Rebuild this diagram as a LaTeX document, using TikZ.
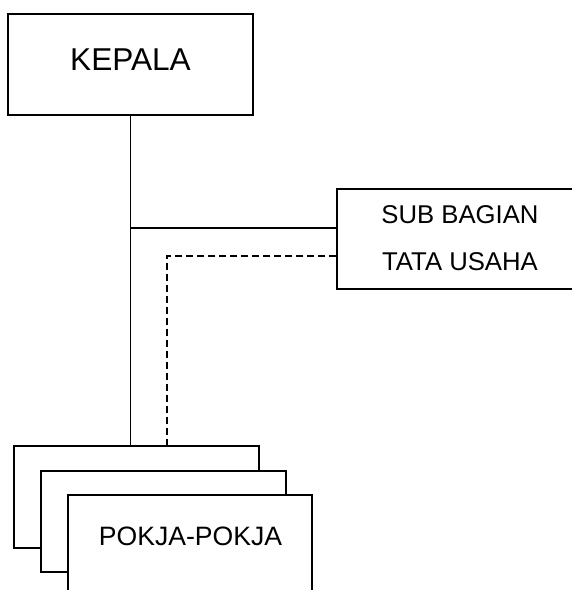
\documentclass[tikz,border=0pt]{standalone}
\usepackage{fontspec}
\setmainfont{Liberation Sans}
\begin{document}
\begin{tikzpicture}[x=1pt,y=-1pt,line width=1.1pt,
  box/.style={draw,fill=white,inner sep=0pt,anchor=center},
  lbl/.style={inner sep=0pt,anchor=center,align=center},
  dashline/.style={dash pattern=on 7pt off 4pt}]
\useasboundingbox (0,0) rectangle (572,590);
\clip (0,0) rectangle (572,590);
% KEPALA
\node[box,minimum width=245pt,minimum height=101pt] (kepala) at (130.5,64.5) {};
\node[lbl,font=\fontsize{31.6}{38}\selectfont] (kepalatxt) at (130.5,59.3) {KEPALA};
% SUB BAGIAN
\node[box,minimum width=246pt,minimum height=100pt] (sub) at (460,239) {};
\node[lbl,font=\fontsize{25.7}{47}\selectfont] (subtxt) at (460,238.5) {SUB BAGIAN\\TATA USAHA};
% connectors
\coordinate (j1) at (kepala.south |- 0,228);
\coordinate (d1) at (167,256);
% POKJA boxes
\node[box,minimum width=245pt,minimum height=102pt] (pokja1) at (136.5,497) {};
\node[box,minimum width=245pt,minimum height=101pt] (pokja2) at (163.5,521.5) {};
\node[box,minimum width=244pt,minimum height=105pt] (pokja3) at (190,547.5) {};
\node[lbl,font=\fontsize{26.6}{32}\selectfont] (pokjatxt) at (190.5,536.7) {POKJA-POKJA};
\draw (kepala.south) -- (kepala.south |- pokja1.north);
\draw (j1) -- (j1 -| sub.west);
\draw[dashline] (d1 -| sub.west) -- (d1) -- (d1 |- pokja1.north);
\end{tikzpicture}
\end{document}
